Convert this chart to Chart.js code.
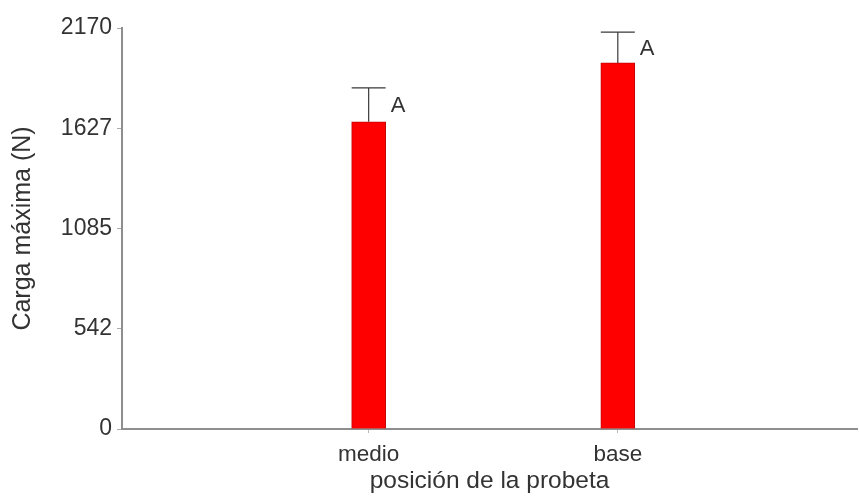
<!DOCTYPE html>
<html>
<head>
<meta charset="utf-8">
<script src="https://cdn.jsdelivr.net/npm/chart.js@4/dist/chart.umd.min.js"></script>
<style>
  html, body { margin: 0; padding: 0; background: #fff; }
  canvas { display: block; }
</style>
</head>
<body>
<canvas id="c" width="859" height="496"></canvas>
<script>
// Carga máxima por posición de la probeta (media + error superior)
const categories = ['medio', 'base'];
const cargaMedia = [1662, 1981];
const errorSuperior = [184, 167];
const letras = ['A', 'A'];
const yTickValues = [0, 542.5, 1085, 1627.5, 2170];
const yTickLabels = ['0', '542', '1085', '1627', '2170'];

const FONT = "'Liberation Sans', Arial, sans-serif";
const TEXT = '#333333';
const AXIS = '#8e8e8e';

// categories sit at positions 1, 2 on a numeric axis
const points = categories.map((c, i) => ({ x: i + 1, y: cargaMedia[i] }));

const errorBars = {
  id: 'errorBars',
  afterDatasetsDraw(chart) {
    const ctx = chart.ctx;
    const yScale = chart.scales.y;
    const meta = chart.getDatasetMeta(0);
    ctx.save();
    meta.data.forEach((bar, i) => {
      const yTop = yScale.getPixelForValue(cargaMedia[i] + errorSuperior[i]);
      const half = bar.width / 2;
      ctx.strokeStyle = '#3a3a3a';
      ctx.lineWidth = 1.2;
      ctx.beginPath();
      ctx.moveTo(bar.x, bar.y);
      ctx.lineTo(bar.x, yTop);
      ctx.moveTo(bar.x - half, yTop);
      ctx.lineTo(bar.x + half, yTop);
      ctx.stroke();
      ctx.fillStyle = TEXT;
      ctx.font = '22px ' + FONT;
      ctx.textAlign = 'left';
      ctx.textBaseline = 'middle';
      ctx.fillText(letras[i], bar.x + half + 5, (bar.y + yTop) / 2 + 1);
    });
    ctx.restore();
  }
};

new Chart(document.getElementById('c'), {
  type: 'bar',
  data: {
    datasets: [{
      data: points,
      backgroundColor: '#ff0000',
      borderColor: '#c40000',
      borderWidth: 1,
      barThickness: 34
    }]
  },
  options: {
    responsive: false,
    animation: false,
    devicePixelRatio: 1,
    layout: { padding: { left: 0, top: 28, right: 2, bottom: 0 } },
    plugins: { legend: { display: false }, tooltip: { enabled: false } },
    scales: {
      x: {
        type: 'linear',
        min: 0.01,
        max: 2.96,
        offset: false,
        afterBuildTicks: s => { s.ticks = categories.map((c, i) => ({ value: i + 1 })); },
        afterFit: s => { s.height = 67; },
        ticks: {
          callback: v => categories[Math.round(v) - 1] || '',
          color: TEXT,
          font: { family: FONT, size: 22.5 },
          padding: 8,
          maxRotation: 0,
          autoSkip: false
        },
        grid: { display: true, offset: false, drawOnChartArea: false, drawTicks: true, tickLength: 4, color: '#bbbbbb' },
        border: { display: true, color: AXIS, width: 2 },
        title: {
          display: true,
          text: 'posición de la probeta',
          color: TEXT,
          font: { family: FONT, size: 24.5 },
          padding: 0
        }
      },
      y: {
        min: 0,
        max: 2170,
        afterBuildTicks: s => { s.ticks = yTickValues.map(v => ({ value: v })); },
        afterFit: s => { s.width = 122; },
        ticks: {
          callback: (v, i) => yTickLabels[i],
          color: TEXT,
          font: { family: FONT, size: 23 },
          padding: 5,
          autoSkip: false
        },
        grid: { display: true, drawOnChartArea: false, drawTicks: true, tickLength: 5, color: '#aaaaaa' },
        border: { display: true, color: AXIS, width: 2 },
        title: {
          display: true,
          text: 'Carga máxima (N)',
          color: TEXT,
          font: { family: FONT, size: 25 },
          padding: { top: 8, bottom: 0 }
        }
      }
    }
  },
  plugins: [errorBars]
});
</script>
</body>
</html>
